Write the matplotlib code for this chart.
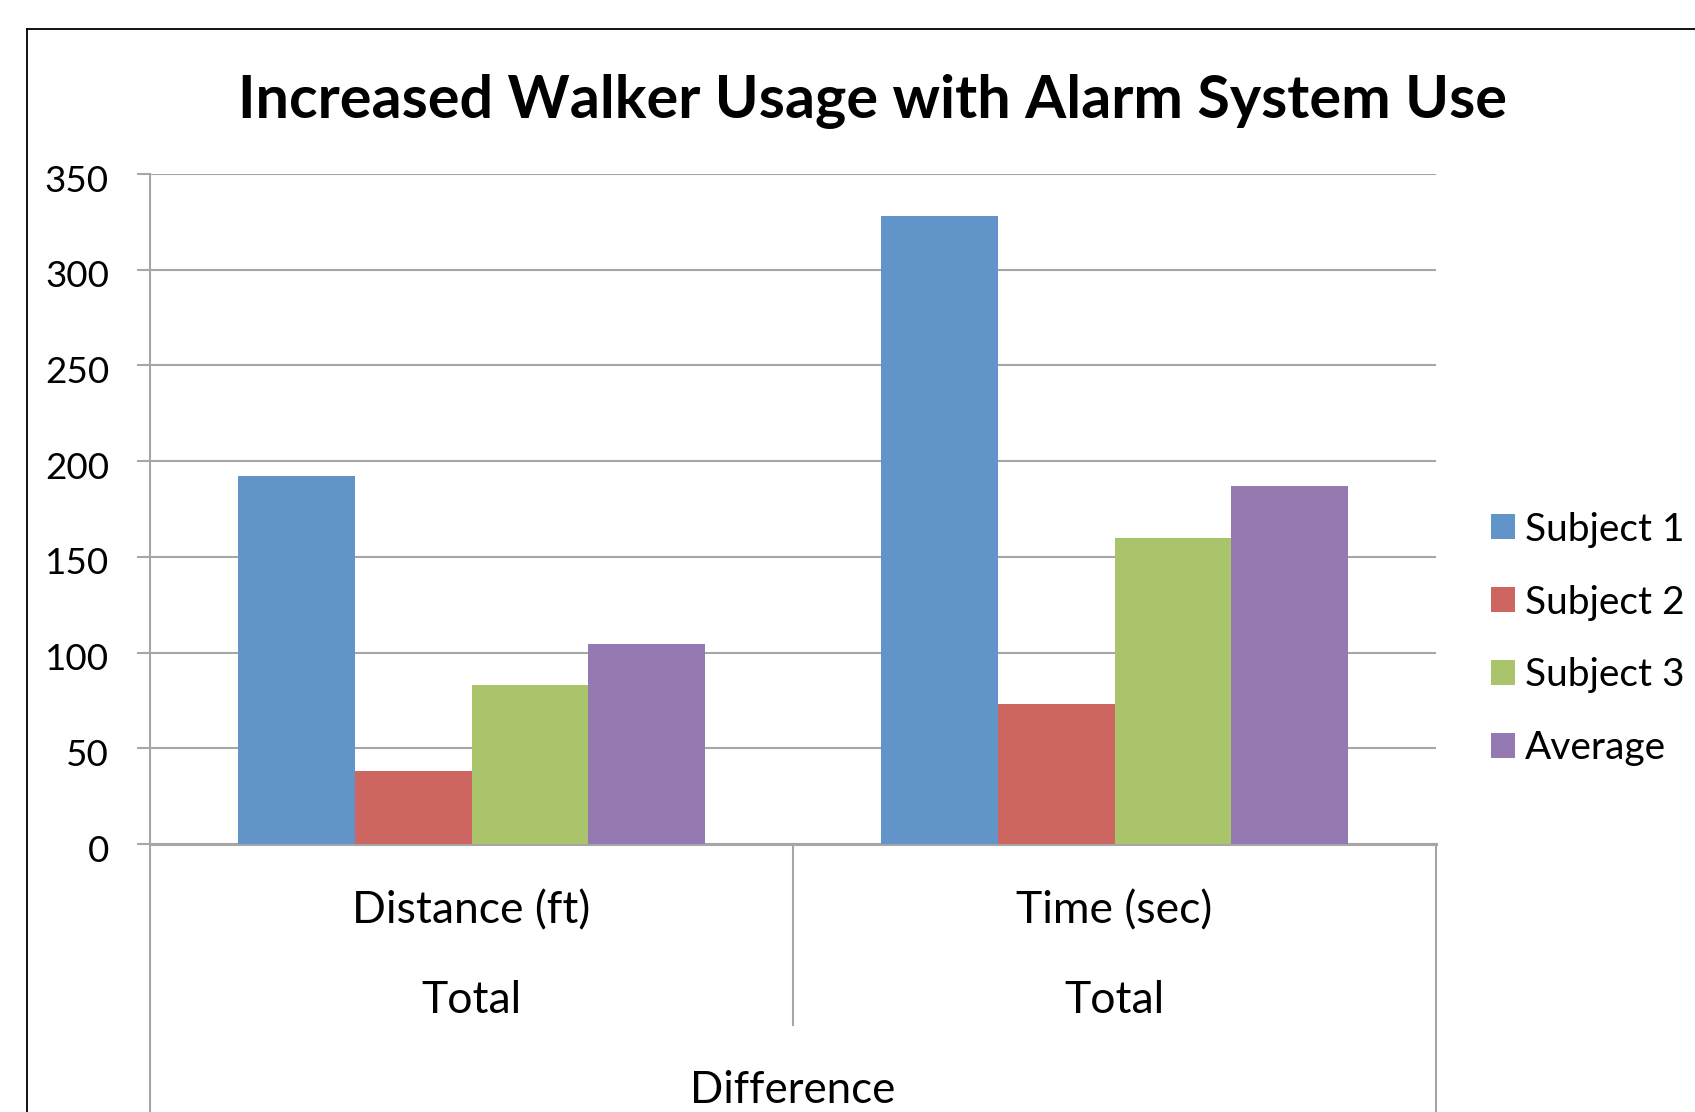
import matplotlib
matplotlib.use("Agg")
from matplotlib import pyplot as plt
import matplotlib.transforms as mtransforms
import numpy as np

plt.rcParams['font.family'] = ['Lato', 'DejaVu Sans']

categories = ['Distance (ft)', 'Time (sec)']
group_label = 'Total'
outer_label = 'Difference'
series_names = ['Subject 1', 'Subject 2', 'Subject 3', 'Average']
subject1 = [192, 328]
subject2 = [38, 73]
subject3 = [83, 160]
average = [104.3, 187]
colors = ['#6195C9', '#CD6660', '#AAC46C', '#947AB0']
title = 'Increased Walker Usage with Alarm System Use'

fig = plt.figure(figsize=(16.95, 11.12), dpi=100)
ax = fig.add_axes([150/1695, 1-844/1112, (1436-150)/1695, (844-174)/1112])

grid_col = '#A6A6A6'
x = np.arange(len(categories))
w = 1/5.5
all_series = [subject1, subject2, subject3, average]
handles = []
for i, vals in enumerate(all_series):
    b = ax.bar(x + (i-1.5)*w, vals, w, color=colors[i], label=series_names[i], zorder=3)
    handles.append(b)

ax.set_xlim(-0.5, 1.5)
ax.set_ylim(0, 350)
ax.set_yticks(np.arange(0, 351, 50))
ax.yaxis.grid(True, color=grid_col, linewidth=1.5, zorder=0)
ax.set_xticks([])
ax.tick_params(axis='y', length=9.5, width=1.5, color=grid_col, pad=20, labelsize=26.5)
# excel puts the numbers a touch below the gridline
shift = mtransforms.ScaledTranslation(0, -4/100, fig.dpi_scale_trans)
for lab in ax.get_yticklabels():
    lab.set_transform(lab.get_transform() + shift)
for s in ['top', 'right']:
    ax.spines[s].set_visible(False)
ax.spines['left'].set_color(grid_col)
ax.spines['left'].set_linewidth(1.5)
ax.spines['bottom'].set_color(grid_col)
ax.spines['bottom'].set_linewidth(2.2)

# category separators of the multi-level axis
below = -(1112-844)/670
ax.plot([0, 0], [0, below], color=grid_col, lw=1.5, transform=ax.transAxes, clip_on=False)
ax.plot([1, 1], [0, below], color=grid_col, lw=1.5, transform=ax.transAxes, clip_on=False)
ax.plot([0.5, 0.5], [0, -(1025-844)/670], color=grid_col, lw=1.5, transform=ax.transAxes, clip_on=False)

trans = ax.get_xaxis_transform()
for xi, c in zip(x, categories):
    ax.text(xi, -(923-844)/670, c, transform=trans, ha='center', va='baseline', fontsize=32)
    ax.text(xi, -(1013-844)/670, group_label, transform=trans, ha='center', va='baseline', fontsize=32)
ax.text(0.5, -(1103-844)/670, outer_label, transform=ax.transAxes, ha='center', va='baseline', fontsize=31.5)

fig.text(873/1695, 1-118/1112, title, ha='center', va='baseline', fontsize=42.7, fontweight='bold')

fig.legend(handles=handles, loc='center left', bbox_to_anchor=(1491/1695, 1-639/1112),
           frameon=False, fontsize=28, handlelength=0.62, handleheight=0.62,
           handletextpad=0.25, labelspacing=0.95, borderpad=0, borderaxespad=0)

# chart border (left and top edges visible)
fig.add_artist(plt.Line2D([27/1695, 27/1695], [0, 1-29/1112], color='black', lw=1.3))
fig.add_artist(plt.Line2D([27/1695, 1], [1-29/1112, 1-29/1112], color='black', lw=1.3))

fig.savefig('out.png', dpi=100)
